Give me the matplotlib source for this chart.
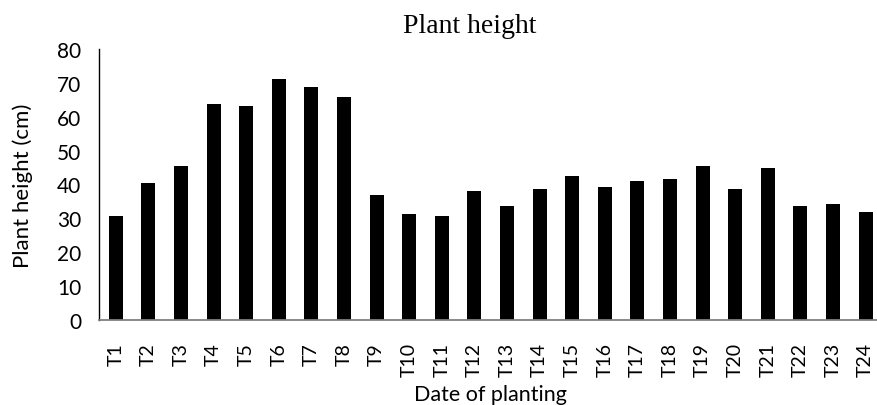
import matplotlib
matplotlib.use("Agg")
import matplotlib.pyplot as plt

categories = [f"T{i}" for i in range(1, 25)]
heights = [30.7, 40.4, 45.4, 63.7, 63.1, 71.1, 68.7, 65.8, 36.9, 31.3, 30.7, 38.1,
           33.6, 38.6, 42.5, 39.2, 41.0, 41.6, 45.4, 38.6, 44.8, 33.6, 34.2, 31.9]
yticks = [0, 10, 20, 30, 40, 50, 60, 70, 80]

W, H = 878, 406
fig = plt.figure(figsize=(W / 100, H / 100), dpi=100)
left, right, top, bottom = 99.5, 882.0, 50.0, 321.0
ax = fig.add_axes([left / W, 1 - bottom / H, (right - left) / W, (bottom - top) / H])

x = range(len(categories))
ax.bar(x, heights, width=0.43, color="black", zorder=3)
ax.set_xlim(-0.5, len(categories) - 0.5)
ax.set_ylim(0, 80)
ax.set_yticks(yticks)
ax.set_xticks(list(x))
ax.set_xticklabels(categories, rotation=90, fontsize=14, family="Lato")
for lbl in ax.get_yticklabels():
    lbl.set_fontsize(15)
    lbl.set_family("Lato")
ax.tick_params(axis="y", length=0, pad=13)
ax.tick_params(axis="x", length=0, pad=16)
for s in ["top", "right"]:
    ax.spines[s].set_visible(False)
ax.spines["bottom"].set_color("#808080")
ax.spines["bottom"].set_linewidth(1.3)
ax.spines["bottom"].set_zorder(4)
ax.spines["left"].set_color("black")
ax.spines["left"].set_linewidth(1.0)

fig.text(23 / W, 1 - 186 / H, "Plant height (cm)", rotation=90, ha="center",
         va="center", fontsize=16, family="Lato")
fig.text(490 / W, 1 - 401 / H, "Date of planting", ha="center", va="baseline",
         fontsize=15.5, family="Lato")
fig.text(470 / W, 1 - 33 / H, "Plant height", ha="center", va="baseline",
         fontsize=20, family="Liberation Serif")

fig.savefig("out.png", dpi=100)
